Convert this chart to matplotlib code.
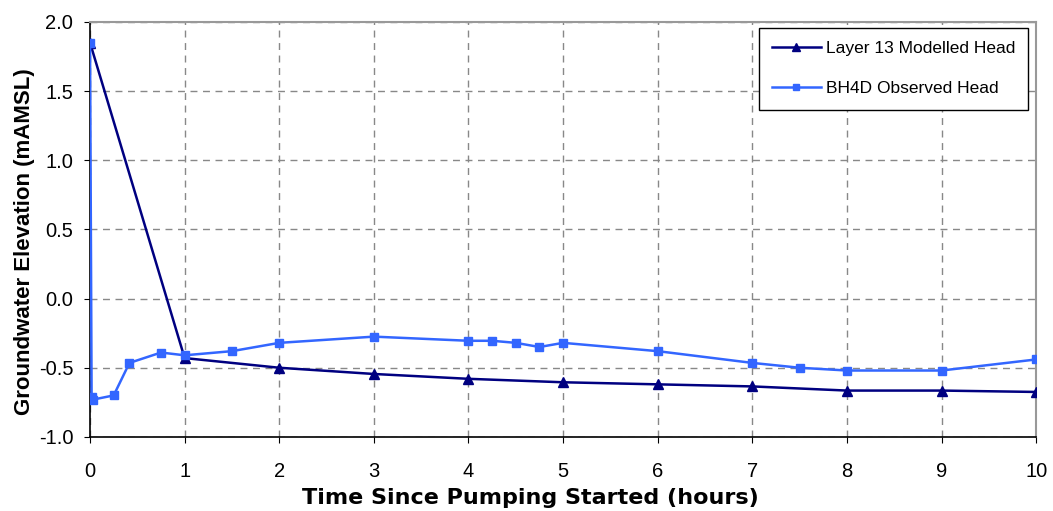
import numpy as np
import matplotlib.pyplot as plt

plt.rcParams['font.family'] = ['Liberation Sans', 'DejaVu Sans']

# modelled head (layer 13), hours
t_mod = [0, 1, 2, 3, 4, 5, 6, 7, 8, 9, 10]
h_mod = [1.85, -0.43, -0.50, -0.545, -0.58, -0.605, -0.62, -0.635, -0.665, -0.665, -0.675]

# observed head at BH4D, hours
t_obs = [0, 0.0167, 0.0333, 0.25, 0.4167, 0.75, 1.0, 1.5, 2, 3, 4, 4.25, 4.5, 4.75, 5, 6, 7, 7.5, 8, 9, 10]
h_obs = [1.85, -0.71, -0.73, -0.70, -0.465, -0.39, -0.41, -0.38, -0.32, -0.275, -0.305, -0.305, -0.32,
         -0.35, -0.32, -0.38, -0.465, -0.50, -0.52, -0.52, -0.44]

xticks = np.arange(0, 11, 1)
yticks = np.arange(-1.0, 2.01, 0.5)

fig = plt.figure(figsize=(10.53, 5.11), dpi=100)
ax = fig.add_axes([0.0855, 0.145, 0.8985, 0.812])

ax.plot(t_mod, h_mod, color='#000080', lw=1.8, marker='^', ms=7, label='Layer 13 Modelled Head', zorder=3)
ax.plot(t_obs, h_obs, color='#3366FF', lw=1.8, marker='s', ms=6, label='BH4D Observed Head', zorder=4)

ax.set_xlim(0, 10)
ax.set_ylim(-1.0, 2.0)
ax.set_xticks(xticks)
ax.set_yticks(yticks)
ax.set_yticklabels(['%.1f' % v for v in yticks])
ax.tick_params(axis='both', labelsize=14.5, direction='out', length=4, color='black')
ax.tick_params(axis='x', pad=14)
ax.tick_params(axis='y', pad=8)

ax.grid(True, linestyle=(0, (5, 4)), color='#888888', lw=1.0)
for s in ['top', 'right']:
    ax.spines[s].set_color('#999999')
    ax.spines[s].set_linewidth(1.5)
for s in ['left', 'bottom']:
    ax.spines[s].set_color('black')
    ax.spines[s].set_linewidth(1.2)

ax.set_xlabel('Time Since Pumping Started (hours)', fontsize=16, fontweight='bold',
              family='DejaVu Sans')
ax.xaxis.set_label_coords(0.465, -0.122)
ax.set_ylabel('Groundwater Elevation (mAMSL)', fontsize=16, fontweight='bold')
ax.yaxis.set_label_coords(-0.058, 0.47)

leg = ax.legend(loc='upper right', fontsize=12.5, frameon=True, fancybox=False, edgecolor='black',
                framealpha=1, borderpad=0.75, labelspacing=1.45, handlelength=2.8, handletextpad=0.3,
                markerscale=0.8, borderaxespad=0, bbox_to_anchor=(0.9915, 0.9855))
leg.get_frame().set_linewidth(1.0)

plt.savefig('out.png', dpi=100)
